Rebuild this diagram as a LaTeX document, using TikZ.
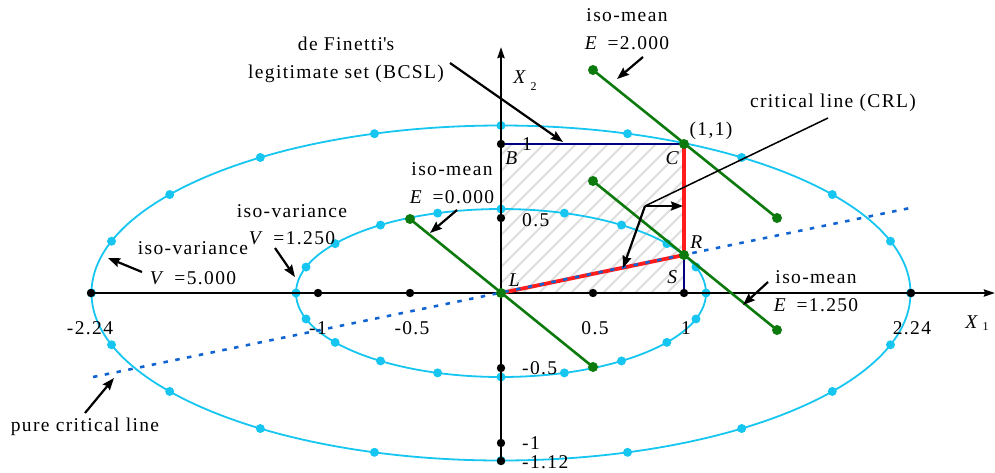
\documentclass[tikz,border=0pt]{standalone}
\usepackage{fontspec}
\setmainfont{Liberation Serif}[LetterSpace=7]
\usetikzlibrary{arrows.meta}
\definecolor{ecyan}{RGB}{22,198,240}
\definecolor{dgreen}{RGB}{12,122,12}
\definecolor{cred}{RGB}{255,28,28}
\definecolor{cblue}{RGB}{16,100,210}
\definecolor{cnavy}{RGB}{0,0,128}
\definecolor{hatchgray}{RGB}{222,222,222}
\newcommand{\straightquote}{{\XeTeXglyph\XeTeXcharglyph"27\relax}}
\tikzset{
  axisline/.style={line width=2.4pt, black},
  ell/.style={ecyan, line width=1.8pt},
  cdot/.style={fill=ecyan},
  bdot/.style={fill=black},
  gdot/.style={fill=dgreen},
  isomean/.style={dgreen, line width=2.6pt},
  crl/.style={cred, line width=3.8pt},
  edge/.style={cnavy, line width=1.8pt},
  pcl/.style={cblue, line width=2.6pt, dash pattern=on 4.5pt off 7.5pt},
  ann/.style={line width=2.2pt, -{Stealth[length=12pt,width=9pt,inset=1.5pt]}},
  lbl/.style={inner sep=0pt, align=center},
}
\begin{document}
\begin{tikzpicture}[x=1pt,y=-1pt,font=\fontsize{19.5}{28}\selectfont]
\useasboundingbox (0,0) rectangle (995,472);
% key points
\coordinate (L) at (501,293);
\coordinate (B) at (501,144);
\coordinate (C) at (684,144);
\coordinate (S) at (684,293);
\coordinate (R) at (684,255);
% hatched legitimate set
\begin{scope}
\clip (L) rectangle (C);
\foreach \k in {0,...,24} \draw[hatchgray, line width=1.8pt] ({501+\k*16-170},293) -- ++(170,-170);
\end{scope}
% ellipses
\draw[ell] (L) ellipse [x radius=409.5pt, y radius=167.5pt];
\draw[ell] (L) ellipse [x radius=205pt, y radius=84pt];
\foreach \t in {0,18,...,342} {
  \fill[cdot] ({501+409.5*cos(\t)},{293-167.5*sin(\t)}) circle[radius=4.5pt];
  \fill[cdot] ({501+205*cos(\t)},{293-84*sin(\t)}) circle[radius=4.5pt];
}
% axes
\coordinate (xs) at (91,293);
\coordinate (xe) at (995,293);
\coordinate (ys) at (501,461);
\coordinate (ye) at (501,47);
\draw[axisline, -{Stealth[length=11pt,width=7pt,inset=1pt]}] (xs) -- (xe);
\draw[axisline, -{Stealth[length=11pt,width=7pt,inset=1pt]}] (ys) -- (ye);
% edges of the set
\draw[edge] (B) -- (C);
\draw[edge] (S) -- (R);
\draw[crl] (L) -- (R) -- (C);
% pure critical line
\coordinate (p1) at (93,377);
\coordinate (p2) at (910,208);
\draw[pcl] (p1) -- (p2);
% iso-mean lines
\coordinate (e0a) at (410,219); \coordinate (e0b) at (593,367);
\coordinate (e2a) at (593,70);  \coordinate (e2b) at (777,218);
\coordinate (e1a) at (593,181); \coordinate (e1b) at (777,330);
\draw[isomean] (e0a) -- (e0b);
\draw[isomean] (e2a) -- (e2b);
\draw[isomean] (e1a) -- (e1b);
% black ticks
\foreach \x in {91,318,410,593,684,911} \fill[bdot] (\x,293) circle[radius=4.2pt];
\foreach \y in {144,218,368,443,461} \fill[bdot] (501,\y) circle[radius=4.2pt];
% green dots
\foreach \p in {e0a,e0b,e2a,e2b,e1a,e1b,L,C,R} \fill[gdot] (\p) circle[radius=5pt];
% tick labels
\node[lbl] (tm224) at (90,328) {-2.24};
\node[lbl] (tm1) at (318,328) {-1};
\node[lbl] (tm05) at (412,328) {-0.5};
\node[lbl] (tp05) at (595,328) {0.5};
\node[lbl] (tp1) at (686,328) {1};
\node[lbl] (tp224) at (912,328) {2.24};
\node[lbl, anchor=west] (ty1) at (522,144) {1};
\node[lbl, anchor=west] (ty05) at (522,220) {0.5};
\node[lbl, anchor=west] (tym05) at (522,368) {-0.5};
\node[lbl, anchor=west] (tym1) at (522,443) {-1};
\node[lbl, anchor=west] (tym112) at (522,462) {-1.12};
% axis names
\node[lbl] (X2) at (525,81) {\textit{X}\,\raisebox{-7pt}{\fontsize{12}{12}\selectfont 2}};
\node[lbl] (X1) at (977,323) {\textit{X}\,\raisebox{-2pt}{\fontsize{12}{12}\selectfont 1}};
% point letters
\node[lbl] (lB) at (512,158) {\textit{B}};
\node[lbl] (lC) at (673,158) {\textit{C}};
\node[lbl] (lR) at (697,242) {\textit{R}};
\node[lbl] (lS) at (673,277) {\textit{S}};
\node[lbl] (lL) at (515,280) {\textit{L}};
\node[lbl] (l11) at (711,131) {(1,1)};
% annotation texts
\node[lbl] (tFin) at (346,60) {de Finetti\straightquote s\\legitimate set (BCSL)};
\node[lbl] (tE2) at (627,29) {iso-mean\\\textit{E}\, =2.000};
\node[lbl] (tCRL) at (833,103) {critical line (CRL)};
\node[lbl] (tE0) at (452,183) {iso-mean\\\textit{E}\, =0.000};
\node[lbl, font=\fontsize{19.5}{27}\selectfont] (tV125) at (292,225) {iso-variance\\\textit{V}\, =1.250};
\node[lbl, font=\fontsize{19.5}{30}\selectfont] (tV5) at (193,263) {iso-variance\\\textit{V}\, =5.000};
\node[lbl] (tE125) at (816,291) {iso-mean\\\textit{E}\, =1.250};
\node[lbl] (tPCL) at (85,427) {pure critical line};
% annotation arrows
\coordinate (aFin1) at (450,63);  \coordinate (aFin2) at (563,142);
\coordinate (aE21) at (643,57);   \coordinate (aE22) at (617,79);
\coordinate (aC0) at (828,118);   \coordinate (aCj) at (645,206);
\coordinate (aC1) at (683,206);   \coordinate (aC2) at (623,268);
\coordinate (aE01) at (457,210);  \coordinate (aE02) at (430,233);
\coordinate (aV11) at (275,248);  \coordinate (aV12) at (295,277);
\coordinate (aV51) at (142,272);  \coordinate (aV52) at (108,258);
\coordinate (aP1) at (85,413);    \coordinate (aP2) at (114,378);
\coordinate (aE11) at (768,282);  \coordinate (aE12) at (743,305);
\draw[ann] (aFin1) -- (aFin2);
\draw[ann] (aE21) -- (aE22);
\draw[line width=1.5pt] (aC0) -- (aCj);
\draw[ann] (aCj) -- (aC1);
\draw[ann] (aCj) -- (aC2);
\draw[ann] (aE01) -- (aE02);
\draw[ann] (aV11) -- (aV12);
\draw[ann] (aV51) -- (aV52);
\draw[ann] (aP1) -- (aP2);
\draw[ann] (aE11) -- (aE12);
\end{tikzpicture}
\end{document}
